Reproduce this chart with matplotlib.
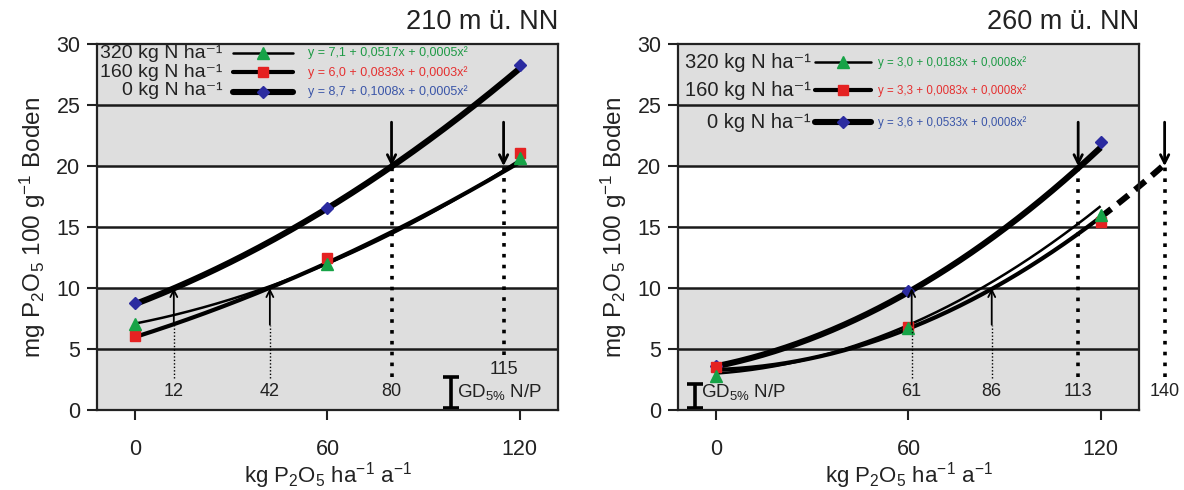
import numpy as np
import matplotlib
matplotlib.use("Agg")
import matplotlib.pyplot as plt

plt.rcParams["font.family"] = ["Liberation Sans", "DejaVu Sans"]
plt.rcParams["mathtext.fontset"] = "custom"
plt.rcParams["mathtext.rm"] = "Liberation Sans"
plt.rcParams["mathtext.it"] = "Liberation Sans:italic"
plt.rcParams["mathtext.bf"] = "Liberation Sans:bold"

# P fertiliser rates (kg P2O5 / ha / a)
p_rates = [0, 60, 120]
n_levels = ["320", "160", "0"]

# --- site 210 m ---
a_title = "210 m ü. NN"
a_n320 = [7.1, 12.0, 20.7]
a_n160 = [6.1, 12.5, 21.1]
a_n0 = [8.8, 16.6, 28.3]
a_fit_n320 = [7.1, 0.0517, 0.0005]
a_fit_n160 = [6.0, 0.0833, 0.0003]
a_fit_n0 = [8.7, 0.1008, 0.0005]
a_rise = [12, 42]      # P rate reaching class boundary 10
a_fall = [80, 115]     # P rate reaching class boundary 20
a_gd = 2.6

# --- site 260 m ---
b_title = "260 m ü. NN"
b_n320 = [2.8, 6.7, 16.0]
b_n160 = [3.5, 6.8, 15.4]
b_n0 = [3.6, 9.8, 22.0]
b_fit_n320 = [3.0, 0.0183, 0.0008]
b_fit_n160 = [3.3, 0.0083, 0.0008]
b_fit_n0 = [3.6, 0.0533, 0.0008]
b_rise = [61, 86]
b_fall = [113, 140]
b_gd = 2.0

lower_class = 10
upper_class = 20

styles = {
    "320": dict(color="#17a347", marker="^", lw=1.8, ms=9),
    "160": dict(color="#e52222", marker="s", lw=3.0, ms=7.5),
    "0": dict(color="#2b2ba0", marker="D", lw=4.4, ms=6.5),
}
eq_colors = {"320": "#1d9a45", "160": "#e53030", "0": "#3a55a8"}


def fit_value(coefs, x):
    x = np.asarray(x, dtype=float)
    return coefs[0] + coefs[1] * x + coefs[2] * x ** 2


def eq_label(coefs):
    s = "y = {:.1f} + {:.4f}x + {:.4f}x²".format(*coefs)
    return s.replace(".", ",")


def key_label(lvl):
    return lvl + " kg N ha\u207b\u00b9"


def panel(ax, title, meas, fits, rise, fall, gd, cfg):
    ax.set_xlim(-12, 132)
    ax.set_ylim(0, 30)
    ax.axhspan(0, 10, color="#dedede", zorder=0, lw=0)
    ax.axhspan(20, 30, color="#dedede", zorder=0, lw=0)
    for yv in [5, 10, 15, 20, 25]:
        ax.axhline(yv, color="#1a1a1a", lw=1.8, zorder=1)

    xs = np.linspace(0, 120, 200)
    for lvl in ["0", "160", "320"]:
        ax.plot(xs, fit_value(fits[lvl], xs), color="black",
                lw=styles[lvl]["lw"], solid_capstyle="butt", zorder=3)
    for lvl in ["0", "160", "320"]:
        st = styles[lvl]
        ax.plot(p_rates, meas[lvl], ls="none", marker=st["marker"],
                ms=st["ms"], color=st["color"], mec=st["color"], zorder=4,
                clip_on=False)

    if cfg.get("extend"):
        xe = np.linspace(120, fall[-1], 30)
        ax.plot(xe, fit_value(fits["160"], xe), color="black", lw=4.4,
                ls=(0, (2.2, 1.4)), zorder=3, clip_on=False)

    # arrows up to the lower class boundary
    for xv in rise:
        ax.annotate("", xy=(xv, lower_class), xytext=(xv, 7.0),
                    arrowprops=dict(arrowstyle="->,head_length=0.5,head_width=0.25",
                                    lw=1.3, color="black", shrinkA=0, shrinkB=0),
                    zorder=5)
        ax.plot([xv, xv], [2.6, 7.0], color="black", lw=1.0,
                ls=(0, (1, 1.5)), zorder=5)
        ax.text(xv, 1.5, str(xv), ha="center", va="center", fontsize=13,
                color="#222222", zorder=6)

    # arrows down to the upper class boundary
    for i, xv in enumerate(fall):
        ax.annotate("", xy=(xv, upper_class), xytext=(xv, 23.6),
                    arrowprops=dict(arrowstyle="->,head_length=0.6,head_width=0.3",
                                    lw=2.0, color="black", shrinkA=0, shrinkB=0),
                    zorder=5, annotation_clip=False)
        lab_y = cfg["fall_label_y"][i]
        ax.plot([xv, xv], [lab_y + 1.2, upper_class], color="black", lw=2.6,
                ls=(0, (1.0, 2.0)), zorder=5, clip_on=False)
        ax.text(xv, lab_y, str(xv), ha="center", va="center", fontsize=13,
                color="#222222", zorder=6, clip_on=False)

    # LSD bar
    gx = cfg["gd_x"]
    ax.errorbar([gx], [gd / 2 + 0.15], yerr=[gd / 2], fmt="none", ecolor="black",
                elinewidth=2.6, capsize=6, capthick=2.6, zorder=6, clip_on=False)
    ax.text(gx + 1.8, 1.5, r"GD$_{\mathregular{5\%}}$ N/P", ha="left", va="center",
            fontsize=13.5, color="#222222", zorder=6)

    # key
    rows = cfg["key_rows"]
    if cfg.get("key_block"):
        ax.text(cfg["key_text_x"], rows[1],
                "\n".join(key_label(l) for l in n_levels),
                ha="right", va="center", multialignment="right",
                linespacing=cfg["key_ls"], fontsize=cfg["key_fs"],
                color="#222222", zorder=6)
    for lvl, ry in zip(n_levels, rows):
        st = styles[lvl]
        if not cfg.get("key_block"):
            ax.text(cfg["key_text_x"], ry, key_label(lvl), ha="right",
                    va="center", fontsize=cfg["key_fs"], color="#222222",
                    zorder=6)
        x0, x1 = cfg["key_line"]
        ax.plot([x0, x1], [ry, ry], color="black", lw=st["lw"],
                solid_capstyle="round", zorder=6)
        ax.plot([(x0 + x1) / 2], [ry], ls="none", marker=st["marker"],
                ms=st["ms"], color=st["color"], zorder=7)
        ax.text(cfg["key_eq_x"], ry, eq_label(fits[lvl]), ha="left", va="center",
                fontsize=cfg["eq_fs"], color=eq_colors[lvl], zorder=6)

    ax.text(1.0, 1.025, title, transform=ax.transAxes, ha="right", va="bottom",
            fontsize=19.5, color="#222222")

    ax.set_xticks(p_rates)
    ax.set_yticks(range(0, 31, 5))
    ax.tick_params(axis="both", direction="out", length=7, width=1.5,
                   labelsize=15.5, colors="#222222")
    ax.tick_params(axis="x", pad=14)
    ax.tick_params(axis="y", pad=5)
    for sp in ax.spines.values():
        sp.set_linewidth(1.6)
        sp.set_color("#222222")
        sp.set_zorder(8)
    ax.set_xlabel(r"kg P$_{\mathregular{2}}$O$_{\mathregular{5}}$ ha$^{\mathregular{-1}}$ a$^{\mathregular{-1}}$",
                  fontsize=16, labelpad=0, color="#222222")
    ax.set_ylabel(r"mg P$_{\mathregular{2}}$O$_{\mathregular{5}}$ 100 g$^{\mathregular{-1}}$ Boden",
                  fontsize=17.5, labelpad=6, color="#222222")


fig = plt.figure(figsize=(11.84, 4.9), dpi=100)
ax1 = fig.add_axes([0.0819, 0.163, 0.3894, 0.747])
ax2 = fig.add_axes([0.5726, 0.163, 0.3894, 0.747])

panel(ax1, a_title,
      {"320": a_n320, "160": a_n160, "0": a_n0},
      {"320": a_fit_n320, "160": a_fit_n160, "0": a_fit_n0},
      a_rise, a_fall, a_gd,
      dict(fall_label_y=[1.5, 3.3], gd_x=98.5, key_rows=[29.3, 27.7, 26.1],
           key_text_x=27.2, key_line=(30.6, 49.1), key_eq_x=54, eq_fs=9.0,
           key_fs=14, key_block=True, key_ls=1.12))

panel(ax2, b_title,
      {"320": b_n320, "160": b_n160, "0": b_n0},
      {"320": b_fit_n320, "160": b_fit_n160, "0": b_fit_n0},
      b_rise, b_fall, b_gd,
      dict(fall_label_y=[1.5, 1.5], gd_x=-6.6, key_rows=[28.5, 26.2, 23.6],
           key_text_x=29.4, key_line=(30.9, 48.4), key_eq_x=50.6, eq_fs=8.3,
           key_fs=14.5, extend=True))

fig.savefig("out.png", dpi=100)
